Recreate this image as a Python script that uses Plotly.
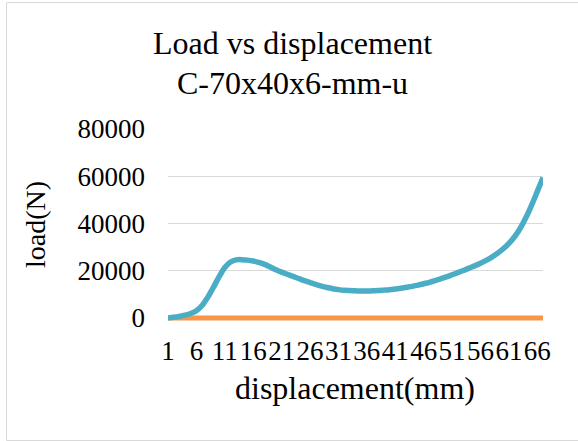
import plotly.graph_objects as go

# Data
displacement = list(range(1, 68))
load = [0, 300, 700, 1200, 1900, 3100, 5300, 8800, 13000, 17500,
        21400, 23700, 24600, 24700, 24500, 24100, 23500, 22700, 21600, 20400,
        19400, 18500, 17600, 16700, 15800, 15000, 14200, 13500, 12900, 12400,
        12000, 11700, 11600, 11500, 11400, 11400, 11500, 11600, 11800, 12000,
        12300, 12600, 13000, 13400, 13900, 14500, 15100, 15800, 16600, 17400,
        18300, 19200, 20100, 21100, 22100, 23200, 24400, 25800, 27400, 29300,
        31600, 34400, 38000, 42500, 47800, 53600, 59400]
second = [0, 0, 0, 0, 0, 0, 0, 0, 0, 0,
          0, 0, 0, 0, 0, 0, 0, 0, 0, 0,
          0, 0, 0, 0, 0, 0, 0, 0, 0, 0,
          0, 0, 0, 0, 0, 0, 0, 0, 0, 0,
          0, 0, 0, 0, 0, 0, 0, 0, 0, 0,
          0, 0, 0, 0, 0, 0, 0, 0, 0, 0,
          0, 0, 0, 0, 0, 0, 0]
tick_vals = [1, 6, 11, 16, 21, 26, 31, 36, 41, 46, 51, 56, 61, 66]
tick_text = [str(v) for v in tick_vals]
y_ticks = [0, 20000, 40000, 60000, 80000]

FONT = "Liberation Serif"

W, H = 578, 441
L, R, T = 168, 35, 129
ZERO_Y = 318            # pixel row of y=0
EXTRA = 4               # pixels of plot area below y=0 so the line is not clipped
B = H - ZERO_Y - EXTRA
ph0 = ZERO_Y - T        # pixels from 0 to 80000
y_min = -EXTRA / ph0 * 80000
pw, ph = W - L - R, H - T - B

def px(x):
    return (x - L) / pw

def py(y):
    return (H - B - y) / ph

fig = go.Figure()
fig.add_trace(go.Scatter(x=displacement, y=second, mode="lines",
                         line=dict(color="#F79646", width=5, shape="spline"),
                         showlegend=False, hoverinfo="skip"))
fig.add_trace(go.Scatter(x=displacement, y=load, mode="lines",
                         line=dict(color="#4BACC6", width=5.5, shape="spline", smoothing=1),
                         showlegend=False))

fig.update_layout(
    width=W, height=H,
    margin=dict(l=L, r=R, t=T, b=B),
    paper_bgcolor="white", plot_bgcolor="white",
    font=dict(family=FONT, color="#000000"),
    xaxis=dict(range=[1, 67], tickmode="array", tickvals=tick_vals, ticktext=tick_text,
               showgrid=False, zeroline=False, showline=False, ticks="",
               tickangle=0,
               tickfont=dict(size=27, family=FONT, color="#000000"),
               ticklabelstandoff=10, fixedrange=True),
    yaxis=dict(range=[y_min, 80000], tickmode="array", tickvals=y_ticks,
               ticktext=[str(v) for v in y_ticks],
               showgrid=True, gridcolor="#D9D9D9", gridwidth=1.2,
               zeroline=False, showline=False, ticks="",
               tickfont=dict(size=27, family=FONT, color="#000000"),
               ticklabelstandoff=22, fixedrange=True),
    annotations=[
        dict(text="Load vs displacement", xref="paper", yref="paper",
             x=px(292), y=py(43), showarrow=False, xanchor="center", yanchor="middle",
             font=dict(size=32, family=FONT, color="#000000")),
        dict(text="C-70x40x6-mm-u", xref="paper", yref="paper",
             x=px(292), y=py(83), showarrow=False, xanchor="center", yanchor="middle",
             font=dict(size=32, family=FONT, color="#000000")),
        dict(text="displacement(mm)", xref="paper", yref="paper",
             x=px(355), y=py(388), showarrow=False, xanchor="center", yanchor="middle",
             font=dict(size=32, family=FONT, color="#000000")),
        dict(text="load(N)", xref="paper", yref="paper", textangle=-90,
             x=px(35), y=py(225), showarrow=False, xanchor="center", yanchor="middle",
             font=dict(size=28, family=FONT, color="#000000")),
    ],
    shapes=[dict(type="rect", xref="paper", yref="paper",
                 x0=px(6.5), x1=px(590), y0=py(440.5), y1=py(2.5),
                 line=dict(color="#D9D9D9", width=1), fillcolor="rgba(0,0,0,0)",
                 layer="below")],
)

fig.write_html("out.html")
